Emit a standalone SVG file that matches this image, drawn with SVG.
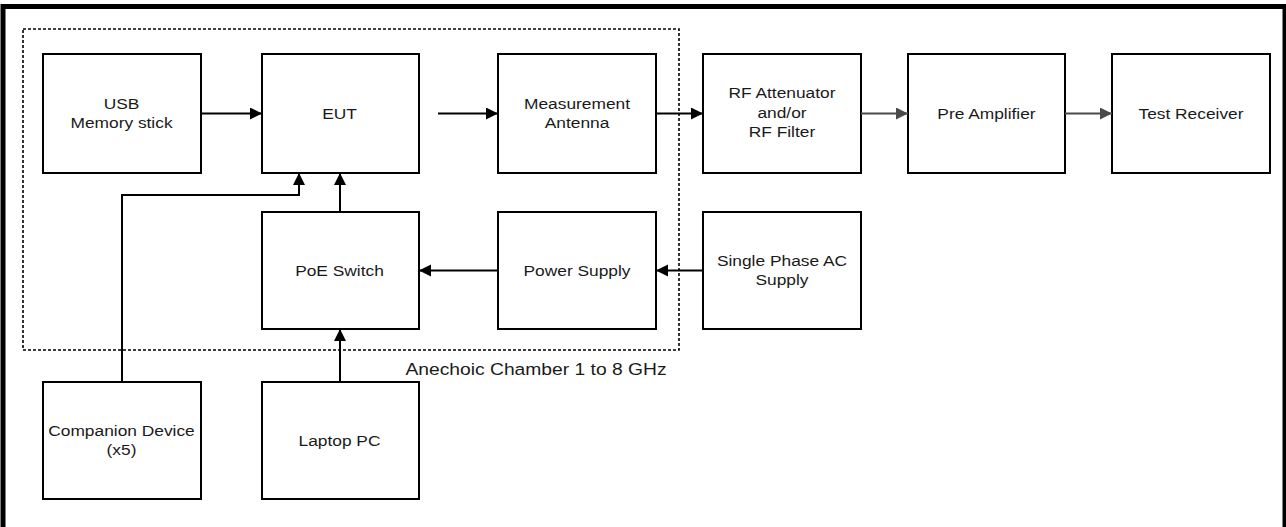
<svg xmlns="http://www.w3.org/2000/svg" width="1286" height="527" viewBox="0 0 1286 527">
  <style>
    .box { fill: #ffffff; stroke: #000000; stroke-width: 2; }
    .lbl { font-family: "Liberation Sans", Arial, sans-serif; font-size: 15.5px; fill: #1a1a1a; text-anchor: middle; }
    .wire { fill: none; stroke: #000000; stroke-width: 2; }
    .wire-grey { fill: none; stroke: #4a4a4a; stroke-width: 2; }
  </style>
  <defs>
    <marker id="tip" markerUnits="userSpaceOnUse" markerWidth="13" markerHeight="13" refX="12" refY="6" orient="auto">
      <path d="M0,0 L12,6 L0,12 Z" fill="#000000"/>
    </marker>
    <marker id="tip-grey" markerUnits="userSpaceOnUse" markerWidth="13" markerHeight="13" refX="12" refY="6" orient="auto">
      <path d="M0,0 L12,6 L0,12 Z" fill="#4a4a4a"/>
    </marker>
  </defs>

  <rect width="1286" height="527" fill="#ffffff"/>
  <!-- outer frame -->
  <rect x="3" y="6.5" width="1282" height="640" fill="none" stroke="#000000" stroke-width="5"/>

  <!-- anechoic chamber boundary -->
  <g id="chamber">
    <rect x="23" y="29" width="656" height="321" fill="none" stroke="#000000" stroke-width="1.6" stroke-dasharray="3 2"/>
    <text x="362" y="375" transform="scale(1.12 1)" font-family="'Liberation Sans', Arial, sans-serif" font-size="17.2" fill="#1a1a1a">Anechoic Chamber 1 to 8 GHz</text>
  </g>

  <g id="usb">
    <rect class="box" x="43" y="54" width="158" height="119"/>
    <text class="lbl" transform="scale(1.12 1)" x="108.5" y="109.5">USB</text>
    <text class="lbl" transform="scale(1.12 1)" x="108.5" y="128.5">Memory stick</text>
  </g>
  <g id="eut">
    <rect class="box" x="262" y="54" width="157" height="119"/>
    <text class="lbl" transform="scale(1.12 1)" x="303.1" y="119">EUT</text>
  </g>
  <g id="antenna">
    <rect class="box" x="498" y="54" width="158" height="119"/>
    <text class="lbl" transform="scale(1.12 1)" x="515.2" y="109.5">Measurement</text>
    <text class="lbl" transform="scale(1.12 1)" x="515.2" y="128.5">Antenna</text>
  </g>
  <g id="attenuator">
    <rect class="box" x="703" y="54" width="158" height="119"/>
    <text class="lbl" transform="scale(1.12 1)" x="698.2" y="98.5">RF Attenuator</text>
    <text class="lbl" transform="scale(1.12 1)" x="698.2" y="118">and/or</text>
    <text class="lbl" transform="scale(1.12 1)" x="698.2" y="137.5">RF Filter</text>
  </g>
  <g id="preamp">
    <rect class="box" x="908" y="54" width="157" height="119"/>
    <text class="lbl" transform="scale(1.12 1)" x="880.8" y="119">Pre Amplifier</text>
  </g>
  <g id="receiver">
    <rect class="box" x="1112" y="54" width="158" height="119"/>
    <text class="lbl" transform="scale(1.12 1)" x="1063.4" y="119">Test Receiver</text>
  </g>
  <g id="poe">
    <rect class="box" x="262" y="212" width="157" height="117"/>
    <text class="lbl" transform="scale(1.12 1)" x="303.1" y="276">PoE Switch</text>
  </g>
  <g id="psu">
    <rect class="box" x="498" y="212" width="158" height="117"/>
    <text class="lbl" transform="scale(1.12 1)" x="515.2" y="276">Power Supply</text>
  </g>
  <g id="mains">
    <rect class="box" x="703" y="212" width="158" height="117"/>
    <text class="lbl" transform="scale(1.12 1)" x="698.2" y="266">Single Phase AC</text>
    <text class="lbl" transform="scale(1.12 1)" x="698.2" y="285">Supply</text>
  </g>
  <g id="companion">
    <rect class="box" x="43" y="382" width="158" height="117"/>
    <text class="lbl" transform="scale(1.12 1)" x="108.5" y="436">Companion Device</text>
    <text class="lbl" transform="scale(1.12 1)" x="108.5" y="455">(x5)</text>
  </g>
  <g id="laptop">
    <rect class="box" x="262" y="382" width="157" height="117"/>
    <text class="lbl" transform="scale(1.12 1)" x="303.1" y="446">Laptop PC</text>
  </g>

  <g id="connectors">
    <path class="wire" d="M201,113.5 H262" marker-end="url(#tip)"/>
    <path class="wire" d="M438,113.5 H498" marker-end="url(#tip)"/>
    <path class="wire" d="M656,113.5 H703" marker-end="url(#tip)"/>
    <path class="wire-grey" d="M861,113.5 H908" marker-end="url(#tip-grey)"/>
    <path class="wire-grey" d="M1065,113.5 H1112" marker-end="url(#tip-grey)"/>
    <path class="wire" d="M122,382 V195 H299 V173" marker-end="url(#tip)"/>
    <path class="wire" d="M340,212 V173" marker-end="url(#tip)"/>
    <path class="wire" d="M340,382 V329" marker-end="url(#tip)"/>
    <path class="wire" d="M498,270.5 H419" marker-end="url(#tip)"/>
    <path class="wire" d="M703,270.5 H656" marker-end="url(#tip)"/>
  </g>
</svg>
